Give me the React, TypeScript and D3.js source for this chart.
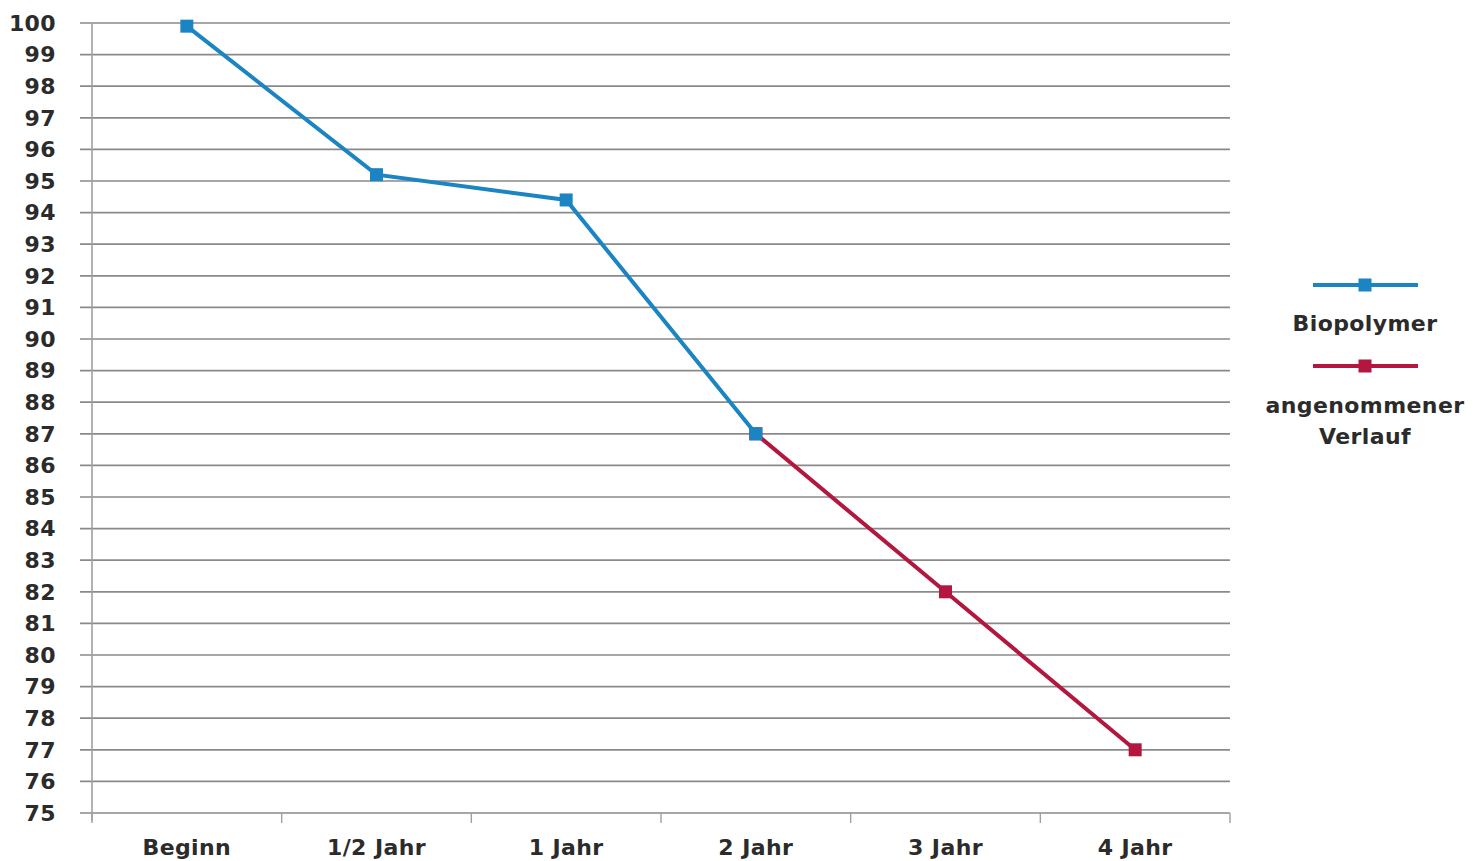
import React from "react";
import * as d3 from "d3";

const categories = ["Beginn", "1/2 Jahr", "1 Jahr", "2 Jahr", "3 Jahr", "4 Jahr"];
const biopolymerValues: (number | null)[] = [99.9, 95.2, 94.4, 87.0, null, null];
const assumedValues: (number | null)[] = [null, null, null, 87.0, 82.0, 77.0];
const yTicks = d3.range(75, 101, 1);

const seriesNames = ["Biopolymer", "angenommener Verlauf"];
const BLUE = "#1b84c2";
const RED = "#b3173f";

const W = 1483;
const H = 861;
const left = 92;
const right = 1230;
const top = 23;
const bottom = 813;
const FONT = "'DejaVu Sans', Lato, sans-serif";
const TEXT = "#2b2b2b";

export default function App() {
  const x = d3.scaleBand<string>().domain(categories).range([left, right]);
  const y = d3.scaleLinear().domain([75, 100]).range([bottom, top]);
  const cx = (c: string) => (x(c) ?? 0) + x.bandwidth() / 2;

  const line = d3
    .line<{ c: string; v: number | null }>()
    .defined((d) => d.v !== null)
    .x((d) => cx(d.c))
    .y((d) => y(d.v as number));

  const blueData = categories.map((c, i) => ({ c, v: biopolymerValues[i] }));
  const redData = categories.map((c, i) => ({ c, v: assumedValues[i] }));

  const marker = (d: { c: string; v: number | null }, color: string, k: string) =>
    d.v === null ? null : (
      <rect key={k} x={cx(d.c) - 6.5} y={y(d.v) - 6.5} width={13} height={13} fill={color} />
    );

  const boundaries = categories.map((c) => x(c) as number).concat([right]);

  const labelProps = {
    fontSize: 22,
    fontWeight: 700,
    fill: TEXT,
    letterSpacing: 0.4,
  } as const;

  return (
    <svg
      width={W}
      height={H}
      style={{ position: "absolute", left: 0, top: 0, background: "#fff" }}
      fontFamily={FONT}
    >
      {/* horizontal gridlines */}
      {yTicks.map((t) => (
        <line key={t} x1={80} x2={right} y1={y(t)} y2={y(t)} stroke="#8a8a8a" strokeWidth={1.7} />
      ))}
      {/* vertical axis */}
      <line x1={left} x2={left} y1={top} y2={bottom + 8} stroke="#a0a0a0" strokeWidth={1.6} />
      {/* category tick marks */}
      {boundaries.map((b, i) => (
        <line key={i} x1={b} x2={b} y1={bottom} y2={bottom + 10} stroke="#a0a0a0" strokeWidth={1.4} />
      ))}
      {/* y tick labels */}
      {yTicks.map((t) => (
        <text key={t} x={56} y={y(t)} dy="0.35em" textAnchor="end" {...labelProps}>
          {t}
        </text>
      ))}
      {/* category labels */}
      {categories.map((c) => (
        <text key={c} x={cx(c)} y={847} dy="0.35em" textAnchor="middle" {...labelProps}>
          {c}
        </text>
      ))}
      {/* series */}
      <path d={line(redData) ?? ""} fill="none" stroke={RED} strokeWidth={4} />
      {redData.map((d, i) => marker(d, RED, "r" + i))}
      <path d={line(blueData) ?? ""} fill="none" stroke={BLUE} strokeWidth={4} />
      {blueData.map((d, i) => marker(d, BLUE, "b" + i))}

      {/* legend */}
      <g>
        <line x1={1313} x2={1418} y1={285} y2={285} stroke={BLUE} strokeWidth={4} />
        <rect x={1358.5} y={278.5} width={13} height={13} fill={BLUE} />
        <text x={1365} y={323} dy="0.35em" textAnchor="middle" {...labelProps}>
          {seriesNames[0]}
        </text>
        <line x1={1313} x2={1418} y1={366} y2={366} stroke={RED} strokeWidth={4} />
        <rect x={1358.5} y={359.5} width={13} height={13} fill={RED} />
        <text x={1365} y={405} dy="0.35em" textAnchor="middle" {...labelProps}>
          {seriesNames[1].split(" ")[0]}
        </text>
        <text x={1365} y={436} dy="0.35em" textAnchor="middle" {...labelProps}>
          {seriesNames[1].split(" ")[1]}
        </text>
      </g>
    </svg>
  );
}
